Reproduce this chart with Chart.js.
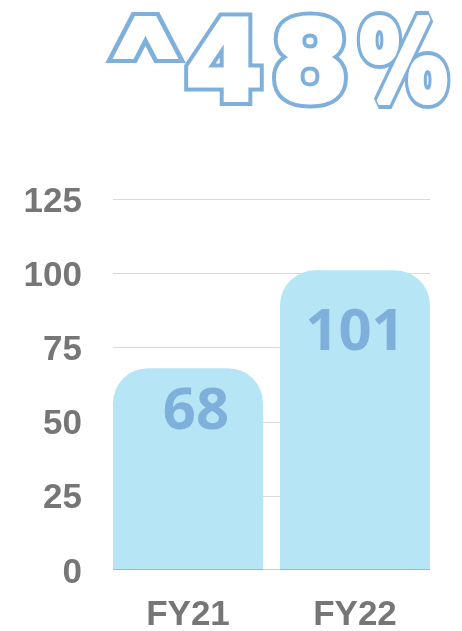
<!DOCTYPE html>
<html><head><meta charset="utf-8">
<script src="https://cdn.jsdelivr.net/npm/chart.js@4"></script>
<style>html,body{margin:0;padding:0;background:#fff;}#wrap{position:relative;width:462px;height:631px;}</style>
</head><body><div id="wrap"><canvas id="c" width="462" height="631"></canvas></div>
<script>
const categories = ['FY21', 'FY22'];
const values = [68, 101];
const yTickValues = [0, 25, 50, 75, 100, 125];
const headlineChars = ['^', '4', '8', '%'];

const BAR = '#b6e5f5';
const LABEL = '#7fb0dc';
const TICK = '#767676';

const gridPlugin = {
  id: 'grid',
  beforeDatasetsDraw(chart) {
    const y = chart.scales.y;
    const bars = chart.getDatasetMeta(0).data;
    const x1 = bars[0].x - bars[0].width / 2;
    const x2 = bars[bars.length - 1].x + bars[bars.length - 1].width / 2;
    const ctx = chart.ctx;
    ctx.save();
    ctx.lineWidth = 1;
    y.ticks.forEach(t => {
      if (t.value === 0) return;
      const py = Math.round(y.getPixelForValue(t.value)) + 0.5;
      ctx.strokeStyle = '#d9d9d9';
      ctx.beginPath(); ctx.moveTo(x1, py); ctx.lineTo(x2, py); ctx.stroke();
    });
    ctx.restore();
  },
  afterDatasetsDraw(chart) {
    const y = chart.scales.y;
    const bars = chart.getDatasetMeta(0).data;
    const ctx = chart.ctx;
    const x1 = bars[0].x - bars[0].width / 2;
    const x2 = bars[bars.length - 1].x + bars[bars.length - 1].width / 2;
    ctx.save();
    const py = Math.round(y.getPixelForValue(0)) - 0.5;
    ctx.strokeStyle = 'rgba(110,110,110,0.35)';
    ctx.lineWidth = 1;
    ctx.beginPath(); ctx.moveTo(x1, py); ctx.lineTo(x2, py); ctx.stroke();
    ctx.fillStyle = LABEL;
    ctx.font = 'bold 58px "Open Sans"';
    ctx.textAlign = 'center';
    ctx.textBaseline = 'alphabetic';
    const dx = [8, 0];
    bars.forEach((b, i) => {
      const v = chart.data.datasets[0].data[i];
      const cy = y.getPixelForValue(v * 0.805);
      ctx.fillText(String(v), b.x + dx[i], cy + 21);
    });
    ctx.restore();
  }
};

const titlePlugin = {
  id: 'headline',
  afterDraw(chart) {
    const ctx = chart.ctx;
    // per-glyph style: font, centre x, baseline, horizontal squeeze, font size, inner (white) stroke
    const glyphs = [
      { fam: 'Liberation Sans', cx: 145.5, by: 75, sx: 1.19, size: 80, d: 8 },
      { fam: 'DejaVu Sans', cx: 224,   by: 100, sx: 1.0,  size: 110, d: 5 },
      { fam: 'DejaVu Sans', cx: 310,   by: 100, sx: 1.0,  size: 110, d: 5 },
      { fam: 'DejaVu Sans', cx: 403.5, by: 100, sx: 0.8,  size: 110, d: 6 }
    ];
    ctx.save();
    ctx.textAlign = 'center';
    ctx.textBaseline = 'alphabetic';
    ctx.lineJoin = 'miter';
    ctx.miterLimit = 2;
    const draw = (i, color, lw, fill) => {
      const g = glyphs[i];
      ctx.save();
      ctx.font = 'bold ' + g.size + 'px "' + g.fam + '"';
      ctx.translate(g.cx, g.by);
      ctx.scale(g.sx, 1);
      ctx.strokeStyle = color; ctx.lineWidth = lw;
      ctx.strokeText(headlineChars[i], 0, 0);
      if (fill) { ctx.fillStyle = color; ctx.fillText(headlineChars[i], 0, 0); }
      ctx.restore();
    };
    headlineChars.forEach((ch, i) => {
      draw(i, LABEL, glyphs[i].d + 8, false);
      draw(i, '#ffffff', glyphs[i].d, true);
    });
    ctx.restore();
  }
};

new Chart(document.getElementById('c'), {
  type: 'bar',
  data: {
    labels: categories,
    datasets: [{
      data: values,
      backgroundColor: BAR,
      borderWidth: 0,
      borderRadius: { topLeft: 35, topRight: 35, bottomLeft: 0, bottomRight: 0 },
      borderSkipped: 'start',
      categoryPercentage: 1,
      barPercentage: 150 / 167
    }]
  },
  options: {
    responsive: false,
    animation: false,
    devicePixelRatio: 1,
    layout: { padding: { top: 199, right: 23.5, left: 0, bottom: 0 } },
    plugins: { legend: { display: false }, tooltip: { enabled: false }, title: { display: false } },
    scales: {
      y: {
        min: 0, max: 125,
        afterBuildTicks: s => { s.ticks = yTickValues.map(v => ({ value: v })); },
        afterFit: s => { s.width = 104.5; },
        grid: { display: false },
        border: { display: false },
        ticks: { color: TICK, padding: 14.5, labelOffset: 3, font: { family: 'Liberation Sans', weight: 'bold', size: 35 } }
      },
      x: {
        afterFit: s => { s.height = 61; },
        grid: { display: false },
        border: { display: false },
        ticks: { color: TICK, padding: 16, font: { family: 'Liberation Sans', weight: 'bold', size: 35 } }
      }
    }
  },
  plugins: [gridPlugin, titlePlugin]
});
</script></body></html>
